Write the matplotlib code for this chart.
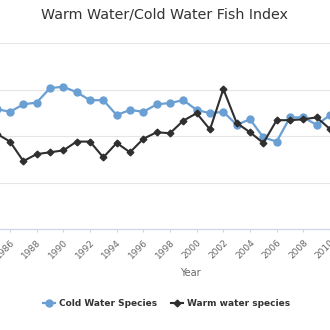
"""Warm/cold water fish index: yearly line chart of two species groups."""

import matplotlib.pyplot as plt
from matplotlib.lines import Line2D

plt.rcParams["font.family"] = ["DejaVu Sans"]

years = list(range(1985, 2011))
cold_water = [0.58, 0.52, 0.68, 0.72, 1.03, 1.06, 0.94, 0.77, 0.77, 0.45, 0.56, 0.52,
              0.68, 0.71, 0.77, 0.56, 0.49, 0.52, 0.24, 0.36, -0.03, -0.12, 0.40,
              0.40, 0.24, 0.45]
warm_water = [0.05, -0.12, -0.54, -0.39, -0.35, -0.31, -0.12, -0.12, -0.46, -0.15,
              -0.35, -0.06, 0.08, 0.06, 0.33, 0.49, 0.14, 1.01, 0.28, 0.08, -0.15,
              0.34, 0.34, 0.36, 0.40, 0.15]
tick_years = list(range(1986, 2011, 2))

COLD = "#6a9fd4"
WARM = "#2f2f2f"
TEXT = "#333333"
LABEL = "#666666"

W, H = 330, 330
fig = plt.figure(figsize=(W / 100, H / 100), dpi=100)
# plot area in pixels: top 43, bottom 229
ax = fig.add_axes([0, 1 - 229 / H, 1, (229 - 43) / H])

ax.plot(years, cold_water, color=COLD, lw=1.6, marker="o", ms=5,
        mec=COLD, zorder=3, clip_on=False)
ax.plot(years, warm_water, color=WARM, lw=1.5, marker="D", ms=3.4,
        mec=WARM, zorder=4, clip_on=False)

ax.set_xlim(1985.25, 2010.0)
ax.set_ylim(-2, 2)
ax.set_yticks([-2, -1, 0, 1, 2])
ax.yaxis.grid(True, color="#e6e6e6", lw=0.8)
ax.set_axisbelow(True)

for side in ("left", "right", "top"):
    ax.spines[side].set_visible(False)
ax.spines["bottom"].set_color("#ccd6eb")
ax.spines["bottom"].set_linewidth(0.8)

ax.set_xticks(tick_years)
ax.set_xticklabels([str(y) for y in tick_years], rotation=45, ha="right",
                   rotation_mode="anchor", color=LABEL, fontsize=6.5)
ax.tick_params(axis="x", length=2.5, width=0.8, color="#ccd6eb", pad=4)
ax.tick_params(axis="y", left=False, labelleft=False)
for lab in ax.get_xticklabels():
    lab.set_clip_on(False)

fig.text(164 / W, 1 - 15 / H, "Warm Water/Cold Water Fish Index",
         ha="center", va="center", color=TEXT, fontsize=10.3)
fig.text(190 / W, 1 - 273 / H, "Year", ha="center", va="center",
         color=LABEL, fontsize=7)

handles = [
    Line2D([], [], color=COLD, lw=1.6, marker="o", ms=5),
    Line2D([], [], color=WARM, lw=1.5, marker="D", ms=3.4),
]
fig.legend(handles, ["Cold Water Species", "Warm water species"],
           loc="center", bbox_to_anchor=(0.505, 1 - 304 / H), ncol=2,
           frameon=False, handlelength=1.3, handletextpad=0.4,
           columnspacing=1.6, prop={"weight": "bold", "size": 6.5},
           labelcolor=TEXT)

fig.savefig("out.png", dpi=100)
